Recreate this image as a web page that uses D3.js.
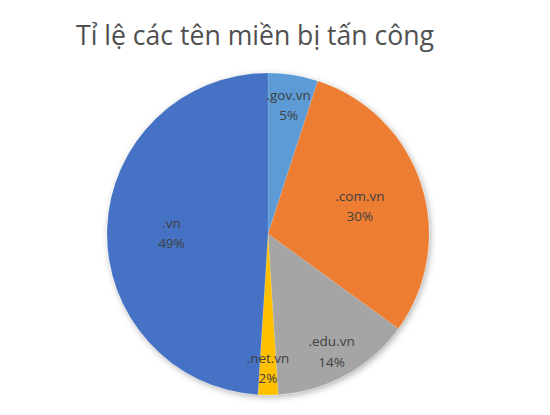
<!DOCTYPE html>
<html>
<head>
<meta charset="utf-8">
<script src="https://cdn.jsdelivr.net/npm/d3@7"></script>
<style>
  body { margin: 0; background: #fff; }
  text { font-family: "Open Sans", "Noto Sans", sans-serif; }
</style>
</head>
<body>
<svg id="chart" width="550" height="415"></svg>
<script>
var title = 'Tỉ lệ các tên miền bị tấn công';
var domains = ['.gov.vn', '.com.vn', '.edu.vn', '.net.vn', '.vn'];
var shares = [5, 30, 14, 2, 49];
var colors = ['#5b9bd5', '#ed7d31', '#a5a5a5', '#ffc000', '#4472c4'];

var width = 550,
    height = 415,
    cx = 268,
    cy = 234,
    radius = 161;

var svg = d3.select('#chart');

var defs = svg.append('defs');
var filter = defs.append('filter')
    .attr('id', 'shadow')
    .attr('x', '-20%').attr('y', '-20%')
    .attr('width', '140%').attr('height', '140%');
filter.append('feDropShadow')
    .attr('dx', 1.5)
    .attr('dy', 2)
    .attr('stdDeviation', 3)
    .attr('flood-color', '#000')
    .attr('flood-opacity', 0.3);

svg.append('text')
    .attr('x', 255)
    .attr('y', 45)
    .attr('text-anchor', 'middle')
    .attr('fill', '#505050')
    .attr('font-size', 26.6)
    .text(title);

var data = domains.map(function(d, i) {
    return { name: d, value: shares[i], color: colors[i] };
});

var pie = d3.pie()
    .sort(null)
    .value(function(d) { return d.value; });

var arc = d3.arc()
    .innerRadius(0)
    .outerRadius(radius);

var arcs = pie(data);

var g = svg.append('g')
    .attr('transform', 'translate(' + cx + ',' + cy + ')');

g.append('g')
    .attr('filter', 'url(#shadow)')
    .selectAll('path')
    .data(arcs)
    .enter()
    .append('path')
    .attr('d', arc)
    .attr('fill', function(d) { return d.data.color; })
    .attr('stroke', '#fff')
    .attr('stroke-opacity', 0.25)
    .attr('stroke-width', 0.5);

// small slices get their label pushed further out, like Excel's best fit
function labelArc(d) {
    var f = d.data.value < 20 ? 0.82 : 0.6;
    return d3.arc().innerRadius(radius * f).outerRadius(radius * f).centroid(d);
}

var labels = g.selectAll('text.lbl')
    .data(arcs)
    .enter()
    .append('text')
    .attr('class', 'lbl')
    .attr('text-anchor', 'middle')
    .attr('fill', '#404040')
    .attr('font-size', 13.5)
    .attr('transform', function(d) {
        var c = labelArc(d);
        return 'translate(' + c[0] + ',' + c[1] + ')';
    });

labels.append('tspan')
    .attr('x', 0)
    .attr('dy', '-0.25em')
    .text(function(d) { return d.data.name; });

labels.append('tspan')
    .attr('x', 0)
    .attr('dy', '1.5em')
    .text(function(d) { return d.data.value + '%'; });
</script>
</body>
</html>
